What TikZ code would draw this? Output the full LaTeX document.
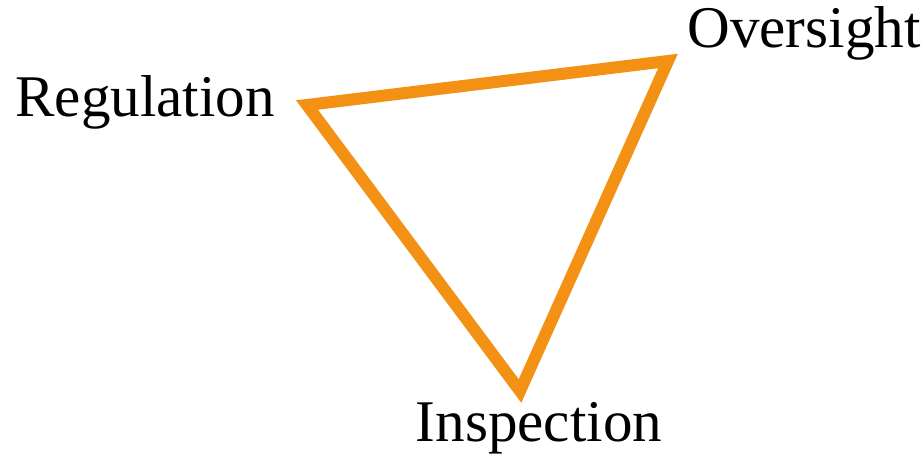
\documentclass[tikz,border=0pt]{standalone}
\usepackage{fontspec}
\setmainfont{Liberation Serif}
\usetikzlibrary{positioning}
\definecolor{triorange}{HTML}{F29113}

\begin{document}
\begin{tikzpicture}[
        x=0.01cm, y=-0.01cm,
        side/.style={line width=0.12cm, draw=triorange, line join=miter},
        tag/.style={anchor=base, inner sep=0pt, font=\fontsize{16.8}{20}\selectfont}
    ]
        \useasboundingbox (0,0) rectangle (924,455);

        % Corners
        \coordinate (reg) at (307,105);
        \coordinate (ovs) at (668,61);
        \coordinate (ins) at (520,391);

        % Triangle
        \draw[side] (reg) -- (ovs) -- (ins) -- cycle;

        % Labels
        \node[tag] (regtag) at (145,117) {Regulation};
        \node[tag] (ovstag) at (804,48) {Oversight};
        \node[tag] (instag) at (539,442) {Inspection};
    \end{tikzpicture}
\end{document}
